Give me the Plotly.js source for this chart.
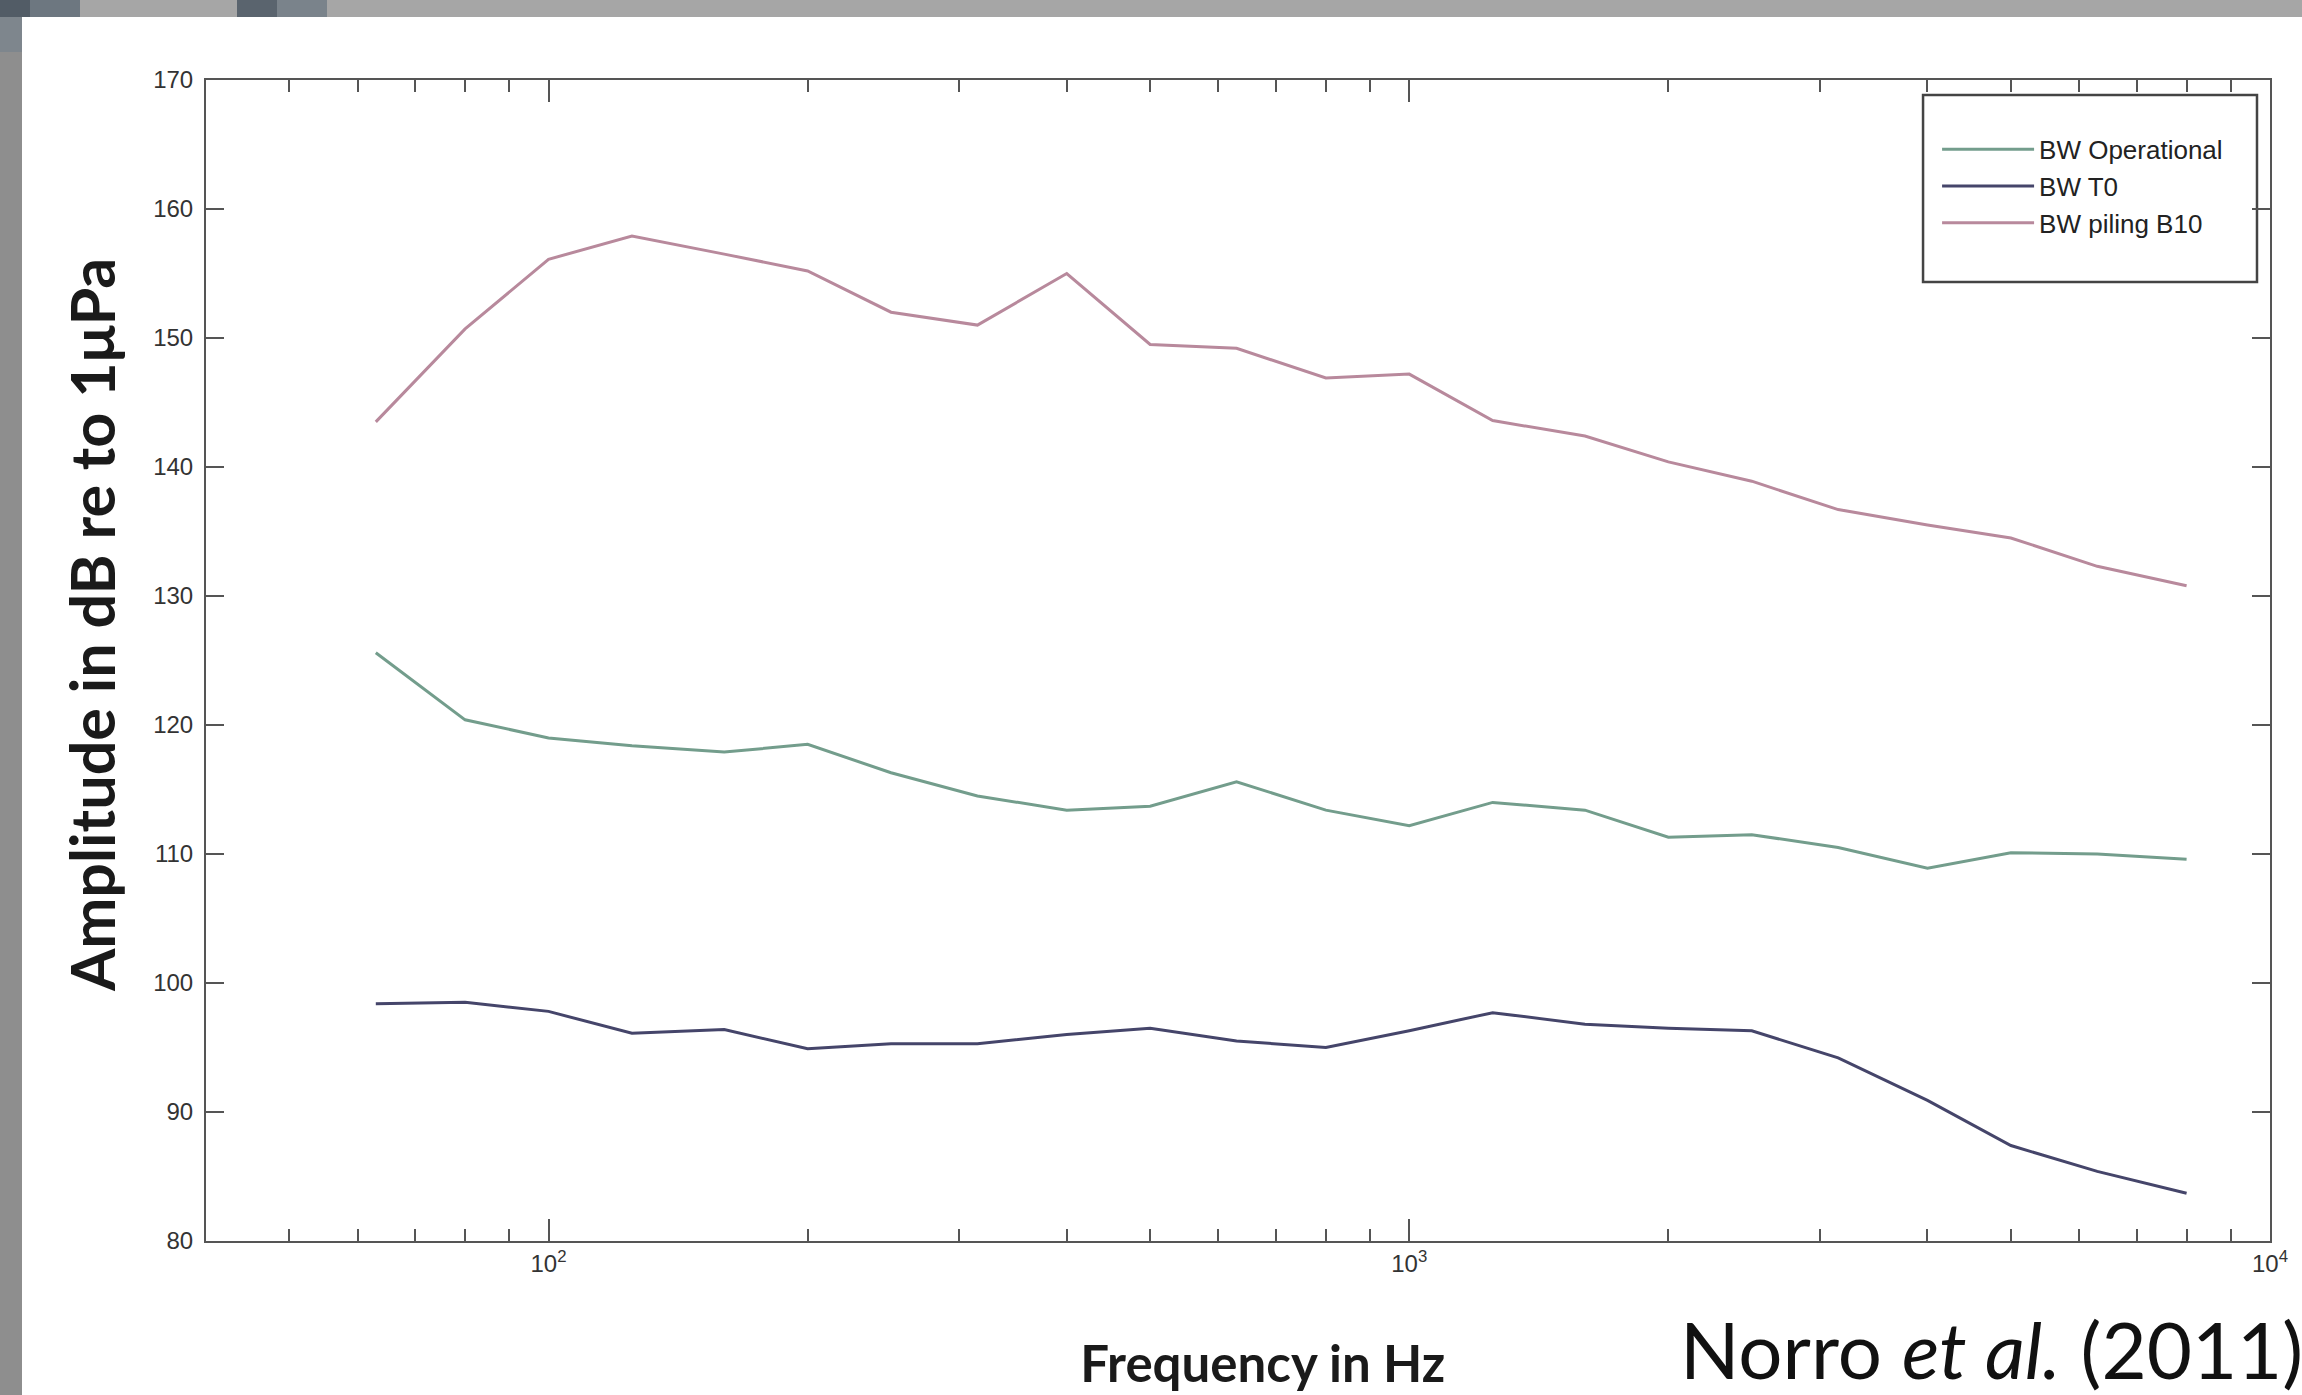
<!DOCTYPE html>
<html>
<head>
<meta charset="utf-8">
<script src="https://cdn.plot.ly/plotly-3.0.1.min.js"></script>
<style>
  html, body { margin: 0; padding: 0; width: 2302px; height: 1395px; overflow: hidden; background: #ffffff; }
  .frame { position: absolute; }
  #chart { position: absolute; left: 22px; top: 17px; width: 2280px; height: 1378px; }
</style>
</head>
<body>
<div class="frame" style="left:0;top:0;width:2302px;height:17px;background:#a6a6a6;"></div>
<div class="frame" style="left:0;top:0;width:22px;height:1395px;background:#8e8e8e;"></div>
<div class="frame" style="left:0;top:0;width:30px;height:17px;background:#525c66;"></div>
<div class="frame" style="left:30px;top:0;width:50px;height:17px;background:#6d7780;"></div>
<div class="frame" style="left:237px;top:0;width:40px;height:17px;background:#5a646e;"></div>
<div class="frame" style="left:277px;top:0;width:50px;height:17px;background:#7a838b;"></div>
<div class="frame" style="left:0;top:17px;width:22px;height:35px;background:#7e868d;"></div>
<div id="chart"></div>
<script>
// Frequencies (Hz), 1/3-octave bands
const freqs = [63, 80, 100, 125, 160, 200, 250, 315, 400, 500, 630, 800, 1000, 1250, 1600, 2000, 2500, 3150, 4000, 5000, 6300, 8000];
// Amplitude in dB re 1 uPa
const bwOperational = [125.6, 120.4, 119.0, 118.4, 117.9, 118.5, 116.3, 114.5, 113.4, 113.7, 115.6, 113.4, 112.2, 114.0, 113.4, 111.3, 111.5, 110.5, 108.9, 110.1, 110.0, 109.6];
const bwT0 = [98.4, 98.5, 97.8, 96.1, 96.4, 94.9, 95.3, 95.3, 96.0, 96.5, 95.5, 95.0, 96.3, 97.7, 96.8, 96.5, 96.3, 94.2, 90.9, 87.4, 85.4, 83.7];
const bwPilingB10 = [143.5, 150.7, 156.1, 157.9, 156.5, 155.2, 152.0, 151.0, 155.0, 149.5, 149.2, 146.9, 147.2, 143.6, 142.4, 140.4, 138.9, 136.7, 135.5, 134.5, 132.3, 130.8];
const seriesNames = ['BW Operational', 'BW T0', 'BW piling B10'];
// Axis ticks
const xMajorTicks = [100, 1000, 10000];
const xMajorLabels = ['10<sup>2</sup>', '10<sup>3</sup>', '10<sup>4</sup>'];
const xMinorTicks = [50, 60, 70, 80, 90, 200, 300, 400, 500, 600, 700, 800, 900, 2000, 3000, 4000, 5000, 6000, 7000, 8000, 9000];
const yTicks = [80, 90, 100, 110, 120, 130, 140, 150, 160, 170];

const axisColor = '#555555';
const tickFont = { family: 'Liberation Sans, Arial, sans-serif', size: 24, color: '#333333' };
// leading invisible padding (zero-width char keeps the no-break spaces from being trimmed)
const pad = n => '\u200B' + '\u00A0'.repeat(n);

const traces = [
  { x: freqs, y: bwOperational, name: seriesNames[0], mode: 'lines', line: { color: '#739d8c', width: 3 } },
  { x: freqs, y: bwT0, name: seriesNames[1], mode: 'lines', line: { color: '#45456a', width: 3 } },
  { x: freqs, y: bwPilingB10, name: seriesNames[2], mode: 'lines', line: { color: '#b8899c', width: 3 } }
];

const layout = {
  width: 2280, height: 1378,
  margin: { l: 184, r: 32, t: 63, b: 154, pad: 0 },
  paper_bgcolor: '#ffffff', plot_bgcolor: '#ffffff',
  showlegend: true,
  legend: {
    x: 0.8387, xanchor: 'left', y: 0.9605, yanchor: 'top',
    bgcolor: 'rgba(0,0,0,0)', borderwidth: 0,
    itemwidth: 92,
    font: { family: 'Liberation Sans, Arial, sans-serif', size: 26, color: '#222222' }
  },
  xaxis: {
    type: 'log', range: [Math.log10(40), 4], autorange: false,
    showline: true, linecolor: axisColor, linewidth: 2, mirror: 'ticks',
    showgrid: false, zeroline: false,
    ticks: 'inside', ticklen: 22, tickwidth: 2, tickcolor: axisColor,
    tickmode: 'array', tickvals: xMajorTicks, ticktext: xMajorLabels,
    tickfont: tickFont,
    minor: { tickmode: 'array', tickvals: xMinorTicks, ticks: 'inside', ticklen: 12, tickwidth: 2, tickcolor: axisColor, showgrid: false },
    title: { text: pad(4) + 'Frequency in Hz', standoff: 71, font: { family: 'Lato, sans-serif', size: 51, color: '#1a1a1a', weight: 'bold' } }
  },
  yaxis: {
    range: [80, 170], autorange: false,
    showline: true, linecolor: axisColor, linewidth: 2, mirror: 'ticks',
    showgrid: false, zeroline: false,
    ticks: 'inside', ticklen: 18, tickwidth: 2, tickcolor: axisColor,
    tickmode: 'array', tickvals: yTicks,
    tickfont: tickFont, ticklabelstandoff: 6,
    title: { text: pad(5) + 'Amplitude in dB re to 1μPa', standoff: 18, font: { family: 'Lato, sans-serif', size: 61, color: '#1a1a1a', weight: 'bold' } }
  },
  shapes: [
    { type: 'rect', xref: 'paper', yref: 'paper', x0: 0.8319, x1: 0.9937, y0: 0.8261, y1: 0.9871,
      line: { color: '#444444', width: 2.5 }, fillcolor: 'rgba(255,255,255,0)', layer: 'below' }
  ],
  annotations: [
    { text: 'Norro <i>et al.</i> (2011)', xref: 'paper', yref: 'paper', x: 0.7132, y: -0.0926,
      xanchor: 'left', yanchor: 'middle', showarrow: false,
      font: { family: 'Lato, sans-serif', size: 78, color: '#111111' } }
  ]
};

Plotly.newPlot('chart', traces, layout, { displayModeBar: false, staticPlot: true });
</script>
</body>
</html>
